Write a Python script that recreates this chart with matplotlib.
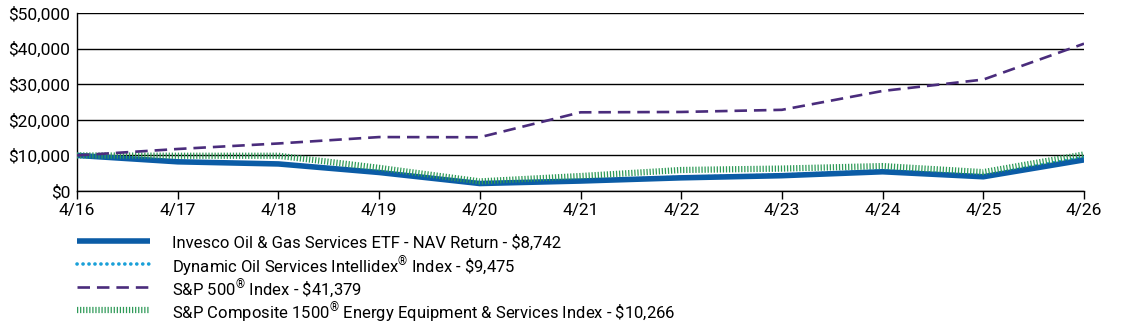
import matplotlib
matplotlib.use("Agg")
import matplotlib.pyplot as plt
from matplotlib.lines import Line2D
from matplotlib.ticker import FuncFormatter

plt.rcParams['font.family'] = ['Roboto', 'DejaVu Sans']
plt.rcParams['mathtext.fontset'] = 'custom'
plt.rcParams['mathtext.rm'] = 'Roboto'
plt.rcParams['lines.scale_dashes'] = False

# data (growth of $10,000)
years = ['4/16', '4/17', '4/18', '4/19', '4/20', '4/21', '4/22', '4/23', '4/24', '4/25', '4/26']
etf = [10000, 8200, 7600, 5200, 2100, 2800, 3700, 4300, 5400, 4000, 8742]
intellidex = [10000, 8300, 7700, 5350, 2200, 2950, 3900, 4500, 5700, 4300, 9475]
sp500 = [10000, 11800, 13350, 15150, 15100, 22100, 22200, 22800, 28100, 31300, 41379]
sp1500_energy = [10000, 9900, 9900, 6500, 2700, 4200, 5900, 6300, 7000, 5300, 10266]

labels = [
    r'Invesco Oil & Gas Services ETF - NAV Return - \$8,742',
    r'Dynamic Oil Services Intellidex$^{®}$ Index - \$9,475',
    r'S&P 500$^{®}$ Index - \$41,379',
    r'S&P Composite 1500$^{®}$ Energy Equipment & Services Index - \$10,266',
]

W, H = 1123, 327
fig = plt.figure(figsize=(W / 100, H / 100), dpi=100)
ax = fig.add_axes([77 / W, 1 - 191 / H, (1084 - 77) / W, (191 - 13) / H])

styles = [
    dict(color='#0b5ca6', lw=4.0, solid_capstyle='butt', zorder=3),
    dict(color='#1aa0d8', lw=2.6, linestyle=(0, (0.1, 4.2)), dash_capstyle='round', zorder=2),
    dict(color='#4a2c7c', lw=1.9, linestyle=(0, (9, 5)), zorder=5),
    dict(color='#2f9a58', lw=4.5, linestyle=(0, (0.9, 1.3)), dash_capstyle='butt', zorder=4),
]

x = list(range(len(years)))
for series, st in zip([etf, intellidex, sp500, sp1500_energy], styles):
    ax.plot(x, series, **st)

ax.set_xlim(0, 10)
ax.set_ylim(0, 50000)
ax.set_xticks(x)
ax.set_xticklabels(years)
ax.set_yticks(range(0, 50001, 10000))
ax.yaxis.set_major_formatter(FuncFormatter(lambda v, p: f'${v:,.0f}'))
ax.grid(axis='y', color='black', lw=1)
ax.set_axisbelow(True)
for s in ['top', 'right']:
    ax.spines[s].set_visible(False)
ax.spines['left'].set_linewidth(1)
ax.spines['bottom'].set_linewidth(1)
ax.tick_params(axis='y', length=0, pad=5, labelsize=12.5)
ax.tick_params(axis='x', length=6, width=1, pad=3, labelsize=12.5)

# legend drawn by hand so the rows keep even spacing
row_y = [241, 264, 287, 310]
for yy, st, lab in zip(row_y, styles, labels):
    st = {k: v for k, v in st.items() if k != 'zorder'}
    fig.add_artist(Line2D([77 / W, 150 / W], [1 - yy / H] * 2, transform=fig.transFigure, **st))
    fig.text(172 / W, 1 - yy / H, lab, fontsize=12, va='center_baseline', ha='left')

fig.savefig('out.png', dpi=100)
